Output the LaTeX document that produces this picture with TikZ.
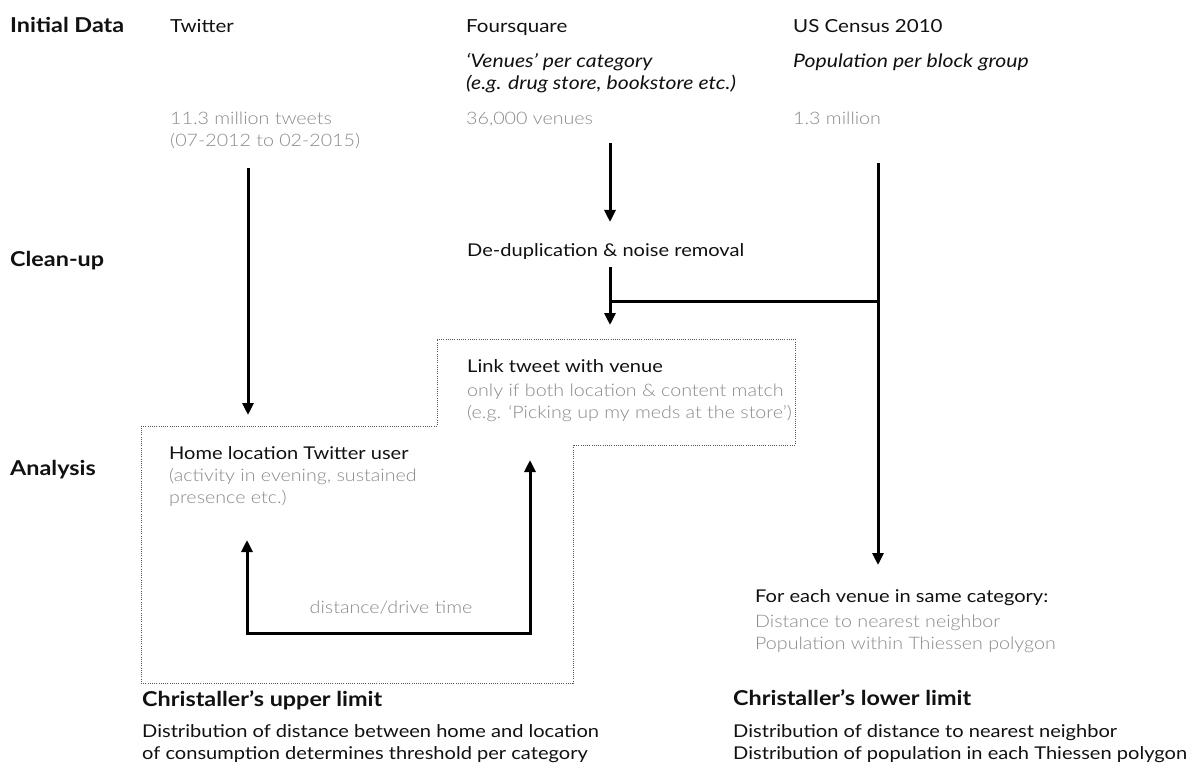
\documentclass[tikz,border=0pt]{standalone}
\usepackage{fontspec}
\setmainfont{Lato}[FakeStretch=1.14]
\newfontfamily\lightfont{Lato Light}[FakeStretch=1.14]
\usetikzlibrary{arrows.meta}
\definecolor{txtgray}{HTML}{8A8A8A}
\definecolor{dotgray}{HTML}{555555}
\definecolor{ink}{HTML}{111111}
\begin{document}
\begin{tikzpicture}[x=1pt,y=-1pt,
  every node/.style={anchor=base west, inner sep=0pt, text=ink},
  lbl/.style={font=\fontsize{20.5}{24}\selectfont\bfseries},
  head/.style={font=\fontsize{18}{22}\selectfont},
  sub/.style={font=\fontsize{18.6}{22}\selectfont\itshape},
  val/.style={font=\lightfont\fontsize{17.25}{22}\selectfont, text=txtgray},
  body/.style={font=\fontsize{17.6}{22}\selectfont},
  ttl/.style={font=\fontsize{20.5}{24}\selectfont\bfseries},
  flow/.style={line width=3pt, -{Triangle[length=12pt,width=11pt]}},
  plain/.style={line width=3pt},
  region/.style={draw=dotgray, line width=0.9pt, dash pattern=on 1pt off 1.2pt}
]
\useasboundingbox[fill=white] (0,0) rectangle (1201,767);

% row labels
\node[lbl] (lInit) at (10,33) {Initial Data};
\node[lbl] (lClean) at (10,266) {Clean-up};
\node[lbl] (lAna) at (10,475) {Analysis};

% sources
\node[head] (tw) at (170,33) {Twitter};
\node[val] (tw1) at (170,125) {11.3 million tweets};
\node[val] (tw2) at (170,147) {(07-2012 to 02-2015)};

\node[head] (fs) at (466,33) {Foursquare};
\node[sub] (fs1) at (466,68) {‘Venues’ per category};
\node[sub] (fs2) at (466,90) {(e.g. drug store, bookstore etc.)};
\node[val] (fs3) at (466,125) {36,000 venues};

\node[head] (us) at (793,33) {US Census 2010};
\node[sub] (us1) at (793,68) {Population per block group};
\node[val] (us2) at (793,125) {1.3 million};

% clean-up
\node[body] (dedup) at (467,257) {De-duplication \& noise removal};

% analysis
\node[body] (link) at (467,372) {Link tweet with venue};
\node[val] (link1) at (467,396) {only if both location \& content match};
\node[val] (link2) at (467,418) {(e.g. ‘Picking up my meds at the store’)};

\node[body] (home) at (169,459) {Home location Twitter user};
\node[val] (home1) at (169,481) {(activity in evening, sustained};
\node[val] (home2) at (169,503) {presence etc.)};

\node[val, anchor=base] (dist) at (391,613) {distance/drive time};

\node[body] (each) at (755,602) {For each venue in same category:};
\node[val] (each1) at (755,627) {Distance to nearest neighbor};
\node[val] (each2) at (755,649) {Population within Thiessen polygon};

% results
\node[ttl] (upper) at (142,706) {Christaller’s upper limit};
\node[body] (upper1) at (142,737) {Distribution of distance between home and location};
\node[body] (upper2) at (142,759) {of consumption determines threshold per category};

\node[ttl] (lower) at (733,705) {Christaller’s lower limit};
\node[body] (lower1) at (733,737) {Distribution of distance to nearest neighbor};
\node[body] (lower2) at (733,759) {Distribution of population in each Thiessen polygon};

% dotted analysis region
\draw[region] (141,426) -- (437,426) -- (437,339) -- (795,339) -- (795,445)
  -- (573,445) -- (573,683) -- (141,683) -- cycle;

% connector coordinates
\coordinate (twA) at (248,168);
\coordinate (twB) at (248,415);
\coordinate (fsA) at (610,143);
\coordinate (fsB) at (610,222);
\coordinate (ddA) at (610,267);
\coordinate (ddJ) at (610,301);
\coordinate (ddB) at (610,325);
\coordinate (usA) at (878,163);
\coordinate (usJ) at (878,301);
\coordinate (usB) at (878,565);
\coordinate (hmTip) at (247,540);
\coordinate (hmC) at (247,633);
\coordinate (lkC) at (530,633);
\coordinate (lkTip) at (530,460);

% connectors
\draw[flow] (twA) -- (twB);
\draw[flow] (fsA) -- (fsB);
\draw[flow] (ddA) -- (ddB);
\draw[plain] (ddJ) -- (usJ);
\draw[flow] (usA) -- (usB);
\draw[line width=3pt, line join=miter, {Triangle[length=12pt,width=11pt]}-{Triangle[length=12pt,width=11pt]}]
  (hmTip) -- (hmC) -- (lkC) -- (lkTip);
\end{tikzpicture}
\end{document}
